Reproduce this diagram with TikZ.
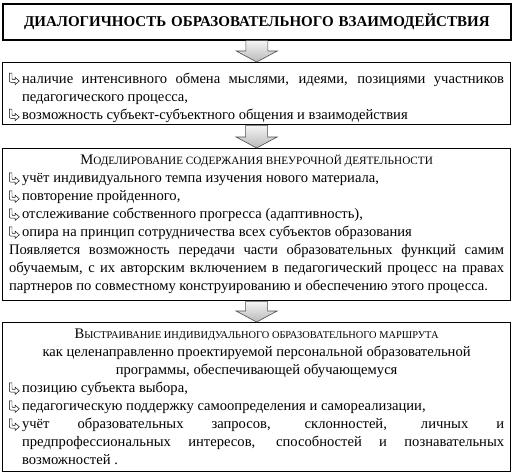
\documentclass[tikz,border=0pt]{standalone}
\usepackage{fontspec}
\setmainfont{Liberation Serif}
\usetikzlibrary{calc}
\newcommand\arrbul{\tikz[baseline=0pt,x=1pt,y=1pt]\draw[line width=0.45pt,black,fill=white] (0,10)--(2.7,10)--(2.7,4.8) .. controls (2.7,3.4) .. (4.2,3.4) -- (5.8,3.4) -- (5.8,5.6) -- (10,2) -- (5.8,-1.6) -- (5.8,0.7) -- (3.6,0.7) .. controls (0,0.7) .. (0,4.3) -- cycle;}
\newcommand\bitem[1]{\par\noindent\hangindent=13pt\hangafter=1\makebox[13pt][l]{\arrbul}#1\par}
\newcommand\smc[1]{{\fontsize{11.2}{18}\selectfont #1}}
\tikzset{
  box/.style={draw=black, line width=1.2pt, fill=white, anchor=north west,
    minimum width=508pt, text width=495pt, inner xsep=6pt, inner ysep=2pt,
    align=justify, font=\fontsize{14.6}{18}\selectfont},
  blockarrow/.style={draw=gray!60!black, line width=0.6pt, top color=gray!8, bottom color=gray!55}
}
\begin{document}
\begin{tikzpicture}[x=1pt,y=-1pt]
\useasboundingbox (0,0) rectangle (514,475);
\node[box, line width=1.6pt, minimum height=36pt, align=center, font=\fontsize{15}{18}\selectfont\bfseries] (b1) at (2,3)
  {ДИАЛОГИЧНОСТЬ ОБРАЗОВАТЕЛЬНОГО ВЗАИМОДЕЙСТВИЯ};
\node[box, minimum height=62pt] (b2) at (2,62) {%
  \tolerance=9999\emergencystretch=2em
  \bitem{наличие интенсивного обмена мыслями, идеями, позициями участников\linebreak педагогического процесса,}
  \bitem{возможность субъект-субъектного общения и взаимодействия}};
\node[box, minimum height=152pt] (b3) at (2,148) {%
  \tolerance=9999\emergencystretch=2em
  {\centering {\fontsize{14.6}{18}\selectfont М}\smc{ОДЕЛИРОВАНИЕ СОДЕРЖАНИЯ ВНЕУРОЧНОЙ ДЕЯТЕЛЬНОСТИ}\par}
  \bitem{учёт индивидуального темпа изучения нового материала,}
  \bitem{повторение пройденного,}
  \bitem{отслеживание собственного прогресса (адаптивность),}
  \bitem{опира на принцип сотрудничества всех субъектов образования}
  \noindent Появляется возможность передачи части образовательных функций самим\linebreak обучаемым, с их авторским включением в педагогический процесс на правах\linebreak партнеров по совместному конструированию и обеспечению этого процесса.\par};
\node[box, minimum height=149pt] (b4) at (2,322) {%
  \tolerance=9999\emergencystretch=2em
  {\centering {\fontsize{14.6}{18}\selectfont В}{\fontsize{10.4}{18}\selectfont ЫСТРАИВАНИЕ ИНДИВИДУАЛЬНОГО ОБРАЗОВАТЕЛЬНОГО МАРШРУТА}\\
  как целенаправленно проектируемой персональной образовательной\\
  программы, обеспечивающей обучающемуся\par}
  \bitem{позицию субъекта выбора,}
  \bitem{педагогическую поддержку самоопределения и самореализации,}
  \bitem{учёт образовательных запросов, склонностей, личных и\linebreak предпрофессиональных интересов, способностей и познавательных\linebreak возможностей .}};
\foreach \a/\b in {b1/b2, b2/b3, b3/b4}{
  \path[blockarrow] let \p1=(\a.south), \p2=(\b.north) in
    (\x1-11pt,\y1) -- (\x1+11pt,\y1) -- (\x1+11pt,\y2+11pt) -- (\x1+20.5pt,\y2+11pt)
    -- (\x2,\y2) -- (\x1-20.5pt,\y2+11pt) -- (\x1-11pt,\y2+11pt) -- cycle;
}
\end{tikzpicture}
\end{document}
